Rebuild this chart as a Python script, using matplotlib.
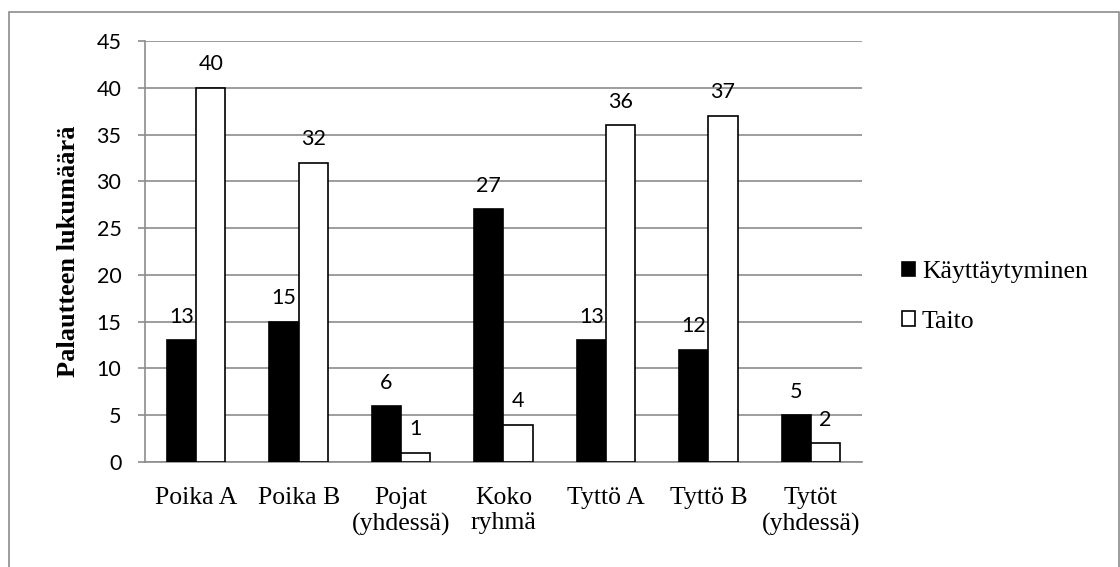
import matplotlib.pyplot as plt
import numpy as np
from matplotlib.patches import Rectangle

categories = ['Poika A', 'Poika B', 'Pojat\n(yhdessä)', 'Koko\nryhmä',
              'Tyttö A', 'Tyttö B', 'Tytöt\n(yhdessä)']
kayttaytyminen = [13, 15, 6, 27, 13, 12, 5]
taito = [40, 32, 1, 4, 36, 37, 2]
yticks = list(range(0, 50, 5))

W, H = 1120, 567
fig = plt.figure(figsize=(W / 100, H / 100), dpi=100)
ax = fig.add_axes([145 / W, 1 - 462 / H, (862 - 145) / W, (462 - 41) / H])

# outer chart border (runs off the bottom edge)
fig.patches.append(Rectangle((9 / W, -10 / H), (1118.5 - 9) / W, (H - 12 + 10) / H,
                             transform=fig.transFigure, fill=False,
                             edgecolor='#8c8c8c', linewidth=1.2))

grey = '#8c8c8c'
num_font = 'Lato'
txt_font = 'Liberation Serif'

x = np.arange(len(categories))
w = 0.285
b1 = ax.bar(x - w / 2, kayttaytyminen, w, color='black', edgecolor='black',
            linewidth=1.2, label='Käyttäytyminen', zorder=3)
b2 = ax.bar(x + w / 2, taito, w, color='white', edgecolor='black',
            linewidth=1.2, label='Taito', zorder=3)

for bars, vals in ((b1, kayttaytyminen), (b2, taito)):
    for bar, v in zip(bars, vals):
        ax.annotate(str(v), (bar.get_x() + bar.get_width() / 2, v),
                    xytext=(0, 12.5), textcoords='offset points',
                    ha='center', va='baseline', fontsize=15.5,
                    family=num_font, zorder=4)

ax.set_xlim(-0.5, len(categories) - 0.5)
ax.set_ylim(0, 45)
ax.set_yticks(yticks)
ax.set_yticklabels([str(t) for t in yticks], family=num_font, fontsize=15.5)
ax.set_xticks(x)
ax.set_xticklabels(categories, family=txt_font, fontsize=18.5,
                   linespacing=1.2)
ax.tick_params(axis='x', length=0, pad=18)
ax.tick_params(axis='y', length=5, width=1.2, color=grey, pad=12)
ax.grid(axis='y', color=grey, linewidth=1.2, zorder=0)

for side in ('top', 'right'):
    ax.spines[side].set_visible(False)
for side in ('left', 'bottom'):
    ax.spines[side].set_color(grey)
    ax.spines[side].set_linewidth(1.2)

ax.set_ylabel('Palautteen lukumäärä', family=txt_font,
              fontweight='bold', fontsize=19, labelpad=12)

ax.legend(loc='center left', bbox_to_anchor=(902 / W, 1 - 297 / H),
          bbox_transform=fig.transFigure, frameon=False,
          borderpad=0, borderaxespad=0,
          prop={'family': txt_font, 'size': 18.5},
          handlelength=0.5, handleheight=0.5, handletextpad=0.27,
          labelspacing=1.07)

fig.savefig('out.png', dpi=100)
